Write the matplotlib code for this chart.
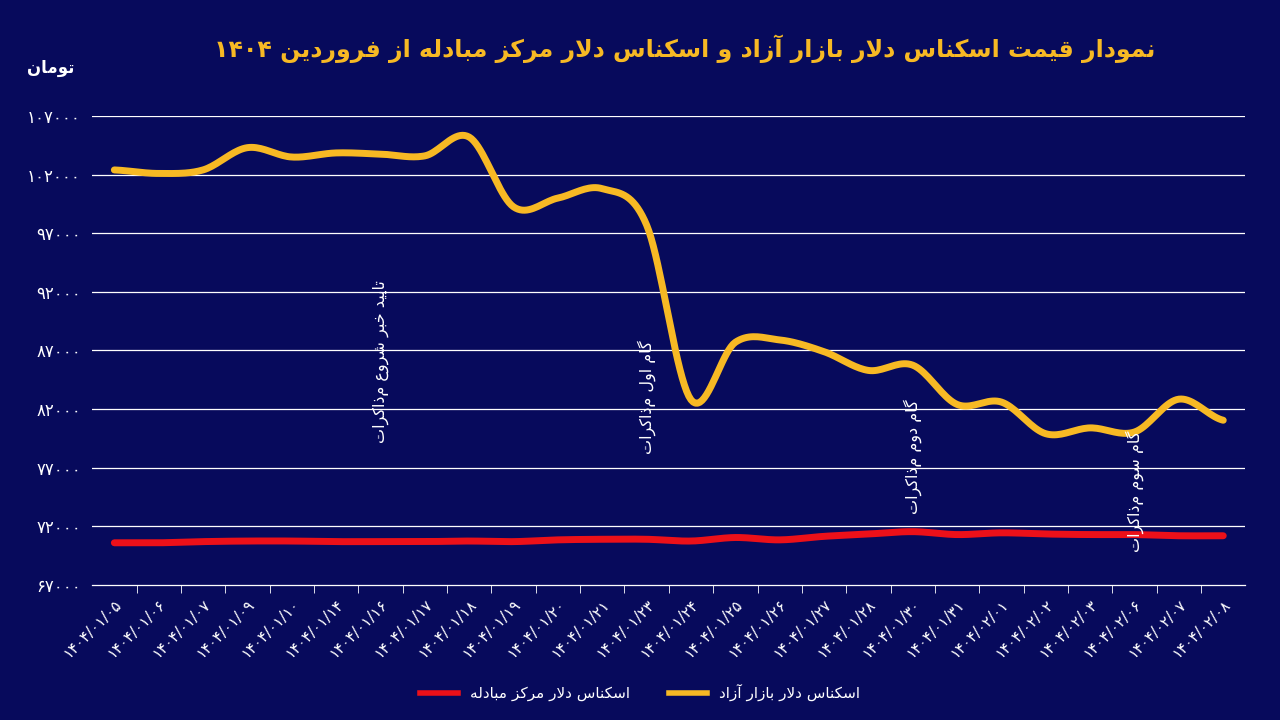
import numpy as np
import matplotlib
matplotlib.use("Agg")
import matplotlib.pyplot as plt
from matplotlib.lines import Line2D

# ---------- data ----------
dates = ["1404/01/05","1404/01/06","1404/01/07","1404/01/09","1404/01/10","1404/01/14",
         "1404/01/16","1404/01/17","1404/01/18","1404/01/19","1404/01/20","1404/01/21",
         "1404/01/23","1404/01/24","1404/01/25","1404/01/26","1404/01/27","1404/01/28",
         "1404/01/30","1404/01/31","1404/02/01","1404/02/02","1404/02/03","1404/02/06",
         "1404/02/07","1404/02/08"]
free_market = [102400,102100,102400,104300,103500,103850,103750,103600,105200,99250,
               100000,100800,97700,82800,87700,87900,86900,85300,85750,82400,
               82600,79900,80400,80050,82850,81050]
exchange_center = [70600,70600,70700,70750,70750,70700,70700,70700,70750,70700,
                   70850,70900,70900,70750,71050,70850,71150,71350,71550,71300,
                   71450,71350,71300,71300,71200,71200]
yticks = [67000,72000,77000,82000,87000,92000,97000,102000,107000]
events = [("تایید خبر شروع مذاکرات", 6), ("گام اول مذاکرات", 12),
          ("گام دوم مذاکرات", 18), ("گام سوم مذاکرات", 23)]
title = "نمودار قیمت اسکناس دلار بازار آزاد و اسکناس دلار مرکز مبادله از فروردین ۱۴۰۴"
unit = "تومان"
legend_labels = ["اسکناس دلار مرکز مبادله", "اسکناس دلار بازار آزاد"]

# ---------- minimal Persian shaping ----------
FORMS = {
 'ا':('\uFE8D','\uFE8E'), 'آ':('\uFE81','\uFE82'), 'د':('\uFEA9','\uFEAA'),
 'ر':('\uFEAD','\uFEAE'), 'ز':('\uFEAF','\uFEB0'), 'و':('\uFEED','\uFEEE'),
 'ب':('\uFE8F','\uFE90','\uFE91','\uFE92'), 'پ':('\uFB56','\uFB57','\uFB58','\uFB59'),
 'ت':('\uFE95','\uFE96','\uFE97','\uFE98'), 'ج':('\uFE9D','\uFE9E','\uFE9F','\uFEA0'),
 'خ':('\uFEA5','\uFEA6','\uFEA7','\uFEA8'), 'س':('\uFEB1','\uFEB2','\uFEB3','\uFEB4'),
 'ش':('\uFEB5','\uFEB6','\uFEB7','\uFEB8'), 'ع':('\uFEC9','\uFECA','\uFECB','\uFECC'),
 'ف':('\uFED1','\uFED2','\uFED3','\uFED4'), 'ق':('\uFED5','\uFED6','\uFED7','\uFED8'),
 'ک':('\uFB8E','\uFB8F','\uFB90','\uFB91'), 'گ':('\uFB92','\uFB93','\uFB94','\uFB95'),
 'ل':('\uFEDD','\uFEDE','\uFEDF','\uFEE0'), 'م':('\uFEE1','\uFEE2','\uFEE3','\uFEE4'),
 'ن':('\uFEE5','\uFEE6','\uFEE7','\uFEE8'), 'ه':('\uFEE9','\uFEEA','\uFEEB','\uFEEC'),
 'ی':('\uFBFC','\uFBFD','\uFBFE','\uFBFF'),
}
def shape_word(w):
    chars = []
    i = 0
    while i < len(w):
        if w[i] == 'ل' and i + 1 < len(w) and w[i+1] in 'اآ':
            chars.append('LA' if w[i+1] == 'ا' else 'LAA'); i += 2
        else:
            chars.append(w[i]); i += 1
    def dual(c): return c in FORMS and len(FORMS[c]) == 4
    def arab(c): return c in FORMS or c in ('LA', 'LAA')
    out = []
    for k, c in enumerate(chars):
        prev = chars[k-1] if k > 0 else None
        nxt = chars[k+1] if k + 1 < len(chars) else None
        jp = prev is not None and dual(prev)
        if c in ('LA', 'LAA'):
            if c == 'LA': out.append('\uFEFC' if jp else '\uFEFB')
            else: out.append('\uFEF6' if jp else '\uFEF5')
            continue
        if c not in FORMS:
            out.append(c); continue
        f = FORMS[c]
        jn = dual(c) and nxt is not None and arab(nxt)
        if len(f) == 2:
            out.append(f[1] if jp else f[0])
        else:
            if jp and jn: out.append(f[3])
            elif jp: out.append(f[1])
            elif jn: out.append(f[2])
            else: out.append(f[0])
    return out

def fa(s):
    words = s.split(' ')
    vis = []
    for w in words:
        if any(ch in FORMS for ch in w):
            vis.append(''.join(reversed(shape_word(w))))
        else:
            vis.append(w)
    return ' '.join(reversed(vis))

PD = str.maketrans('0123456789', '۰۱۲۳۴۵۶۷۸۹')
def pdig(s): return str(s).translate(PD)

# ---------- drawing ----------
BG = '#070a5c'
GOLD = '#f7b924'
RED = '#ec1019'
FONT = 'DejaVu Sans'

def smooth(x, y, n=20):
    x = np.asarray(x, float); y = np.asarray(y, float)
    xs, ys = [], []
    P = np.concatenate([[y[0]], y, [y[-1]]])
    for i in range(len(x) - 1):
        p0, p1, p2, p3 = P[i], P[i+1], P[i+2], P[i+3]
        t = np.linspace(0, 1, n, endpoint=False)
        yy = 0.5*((2*p1) + (-p0+p2)*t + (2*p0-5*p1+4*p2-p3)*t**2 + (-p0+3*p1-3*p2+p3)*t**3)
        xs.append(x[i] + t*(x[i+1]-x[i])); ys.append(yy)
    xs.append([x[-1]]); ys.append([y[-1]])
    return np.concatenate(xs), np.concatenate(ys)

fig = plt.figure(figsize=(12.8, 7.2), dpi=100, facecolor=BG)
ax = fig.add_axes([0.072, 0.1875, 0.901, 0.6514], facecolor=BG)
x = np.arange(len(dates))
ax.set_xlim(-0.5, len(dates) - 0.5)
ax.set_ylim(yticks[0], yticks[-1])

for v in yticks[1:]:
    ax.axhline(v, color='white', lw=0.9, zorder=1)
for s in ['top', 'right', 'left']:
    ax.spines[s].set_visible(False)
ax.spines['bottom'].set_color('white')
ax.spines['bottom'].set_linewidth(0.9)

ax.set_yticks(yticks)
ax.set_yticklabels([pdig(v) for v in yticks], color='white', fontsize=12, family=FONT)
ax.tick_params(axis='y', length=0, pad=8)
ax.set_xticks(x)
ax.set_xticklabels([pdig(d) for d in dates], rotation=45, ha='right', rotation_mode='anchor',
                   color='white', fontsize=11, family=FONT)
ax.tick_params(axis='x', length=0, pad=8)
ax.set_xticks(x[:-1] + 0.5, minor=True)
ax.tick_params(axis='x', which='minor', length=6, color='white')

sx, sy = smooth(x, free_market)
ax.plot(sx, sy, color=GOLD, lw=5, solid_capstyle='round', zorder=3)
sx, sy = smooth(x, exchange_center)
ax.plot(sx, sy, color=RED, lw=5, solid_capstyle='round', zorder=3)

ann_y = [93000, 87900, 82800, 80200]
for (txt, i), yy in zip(events, ann_y):
    ax.text(i, yy, fa(txt), rotation=90, color='white', fontsize=11.5, family=FONT,
            ha='center', va='top', zorder=4)

fig.text(0.535, 0.933, fa(title), color=GOLD, fontsize=17, fontweight='bold', family=FONT,
         ha='center', va='center')
fig.text(0.04, 0.905, fa(unit), color='white', fontsize=12, fontweight='bold', family=FONT,
         ha='center', va='center')

handles = [Line2D([], [], color=RED, lw=4), Line2D([], [], color=GOLD, lw=4)]
leg = fig.legend(handles, [fa(l) for l in legend_labels], loc='center', bbox_to_anchor=(0.5, 0.038),
                 ncol=2, frameon=False, fontsize=11, handlelength=2.5, columnspacing=2.5)
for t in leg.get_texts():
    t.set_color('white'); t.set_family(FONT)

fig.savefig('out.png', dpi=100, facecolor=BG)
